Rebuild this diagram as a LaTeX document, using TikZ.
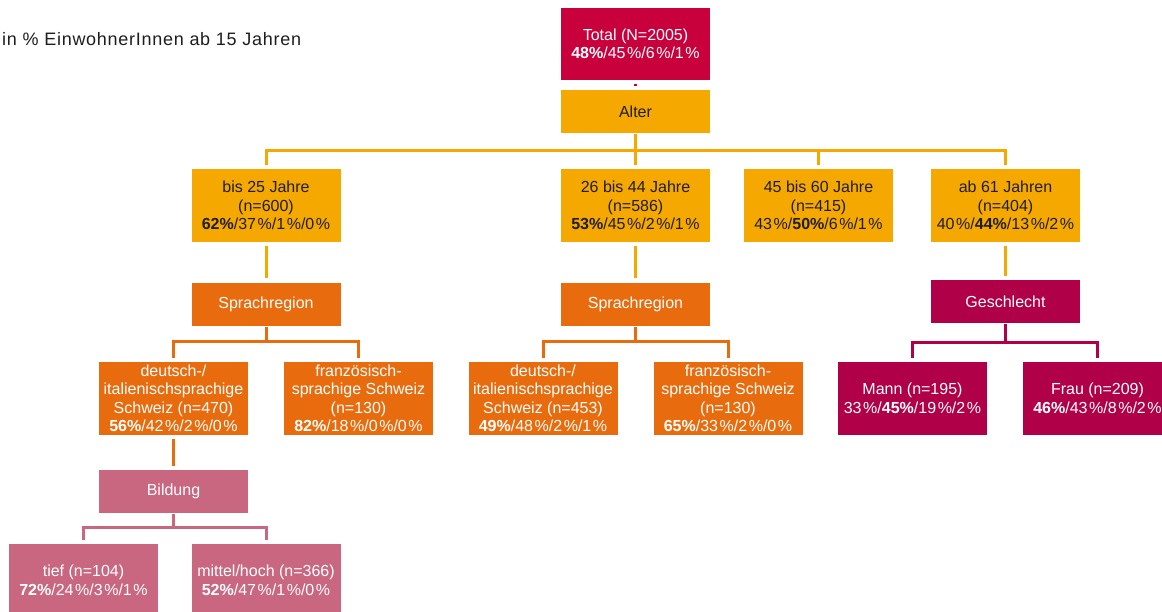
\documentclass[tikz,border=0pt]{standalone}
\usepackage{fontspec}
\setmainfont{Liberation Sans}
\newfontfamily\titlefont[LetterSpace=4]{Liberation Sans}
\definecolor{crim}{RGB}{200,0,60}
\definecolor{yel}{RGB}{245,168,0}
\definecolor{ora}{RGB}{232,108,14}
\definecolor{pnk}{RGB}{201,103,128}
\definecolor{mag}{RGB}{176,0,72}
\definecolor{dtext}{RGB}{30,30,30}
\newcommand\pc{\kern0.1em\%}
\begin{document}
\begin{tikzpicture}[x=1pt,y=-1pt,
  box/.style={rectangle, inner sep=0pt, minimum width=149pt, align=center,
    font=\fontsize{16}{18.5}\selectfont},
  tall/.style={box, minimum height=73pt},
  short/.style={box, minimum height=43pt},
  agebox/.style={fill=yel, text=dtext},
  orabox/.style={fill=ora, text=white},
  pnkbox/.style={fill=pnk, text=white},
  magbox/.style={fill=mag, text=white},
  cn/.style={line width=3pt}]
\useasboundingbox (0,0) rectangle (1162,612);
\begin{scope}
\clip (0,0) rectangle (1162,612);
\fill[white] (0,0) rectangle (1162,612);

\node[anchor=west, text=dtext, inner sep=0pt, font=\titlefont\fontsize{18}{21}\selectfont] (title) at (2,39) {in \% EinwohnerInnen ab 15 Jahren};

\node[tall, fill=crim, text=white, minimum height=72pt] (total) at (635.5,44) {Total (N=2005)\\\textbf{48\%}/45\pc/6\pc/1\pc};
\node[short, agebox] (alter) at (635.5,111.5) {Alter};

\node[tall, agebox] (a1) at (266,205.5) {bis 25 Jahre\\(n=600)\\\textbf{62\%}/37\pc/1\pc/0\pc};
\node[tall, agebox] (a2) at (635.5,205.5) {26 bis 44 Jahre\\(n=586)\\\textbf{53\%}/45\pc/2\pc/1\pc};
\node[tall, agebox] (a3) at (818.5,205.5) {45 bis 60 Jahre\\(n=415)\\43\pc/\textbf{50\%}/6\pc/1\pc};
\node[tall, agebox] (a4) at (1005.5,205.5) {ab 61 Jahren\\(n=404)\\40\pc/\textbf{44\%}/13\pc/2\pc};

\node[short, orabox] (s1) at (266,304.5) {Sprachregion};
\node[short, orabox] (s2) at (635.5,304.5) {Sprachregion};
\node[short, magbox] (g) at (1005.5,301.5) {Geschlecht};

\node[tall, orabox] (d1) at (173.5,398.5) {deutsch-/\\italienischsprachige\\Schweiz (n=470)\\\textbf{56\%}/42\pc/2\pc/0\pc};
\node[tall, orabox] (f1) at (358.5,398.5) {französisch-\\sprachige Schweiz\\(n=130)\\\textbf{82\%}/18\pc/0\pc/0\pc};
\node[tall, orabox] (d2) at (543,398.5) {deutsch-/\\italienischsprachige\\Schweiz (n=453)\\\textbf{49\%}/48\pc/2\pc/1\pc};
\node[tall, orabox] (f2) at (728,398.5) {französisch-\\sprachige Schweiz\\(n=130)\\\textbf{65\%}/33\pc/2\pc/0\pc};
\node[tall, magbox] (m) at (912.5,398.5) {Mann (n=195)\\33\pc/\textbf{45\%}/19\pc/2\pc};
\node[tall, magbox] (fr) at (1097.5,398.5) {Frau (n=209)\\\textbf{46\%}/43\pc/8\pc/2\pc};

\node[short, pnkbox] (b) at (173.5,491.5) {Bildung};
\node[tall, pnkbox] (t) at (83.5,580.5) {tief (n=104)\\\textbf{72\%}/24\pc/3\pc/1\pc};
\node[tall, pnkbox] (mh) at (266,580.5) {mittel/hoch (n=366)\\\textbf{52\%}/47\pc/1\pc/0\pc};

% connectors
\draw[cn, crim] ([yshift=-3.5pt]total.south) -- ([yshift=4pt]alter.north);

\draw[cn, yel] ([yshift=-1pt]alter.south) -- ++(0,17.5);
\draw[cn, yel] ([yshift=4pt]a1.north) -- ++(0,-14) -| ([yshift=4pt]a4.north);
\draw[cn, yel] ([yshift=4pt]a2.north) -- ++(0,-14);
\draw[cn, yel] ([yshift=4pt]a3.north) -- ++(0,-14);

\draw[cn, yel] ([yshift=-4pt]a1.south) -- ([yshift=5pt]s1.north);
\draw[cn, yel] ([yshift=-4pt]a2.south) -- ([yshift=5pt]s2.north);
\draw[cn, yel] ([yshift=-4pt]a4.south) -- ([yshift=4pt]g.north);

\draw[cn, ora] ([yshift=-1pt]s1.south) -- ++(0,16);
\draw[cn, ora] ([yshift=4pt]d1.north) -- ++(0,-16) -| ([yshift=4pt]f1.north);
\draw[cn, ora] ([yshift=-1pt]s2.south) -- ++(0,16);
\draw[cn, ora] ([yshift=4pt]d2.north) -- ++(0,-16) -| ([yshift=4pt]f2.north);
\draw[cn, mag] ([yshift=-1pt]g.south) -- ++(0,20);
\draw[cn, mag] ([yshift=4pt]m.north) -- ++(0,-15) -| ([yshift=4pt]fr.north);

\draw[cn, ora] ([yshift=-4pt]d1.south) -- ([yshift=4pt]b.north);
\draw[cn, pnk] ([yshift=-1pt]b.south) -- ++(0,14);
\draw[cn, pnk] ([yshift=4pt]t.north) -- ++(0,-12) -| ([yshift=4pt]mh.north);
\end{scope}
\end{tikzpicture}
\end{document}
